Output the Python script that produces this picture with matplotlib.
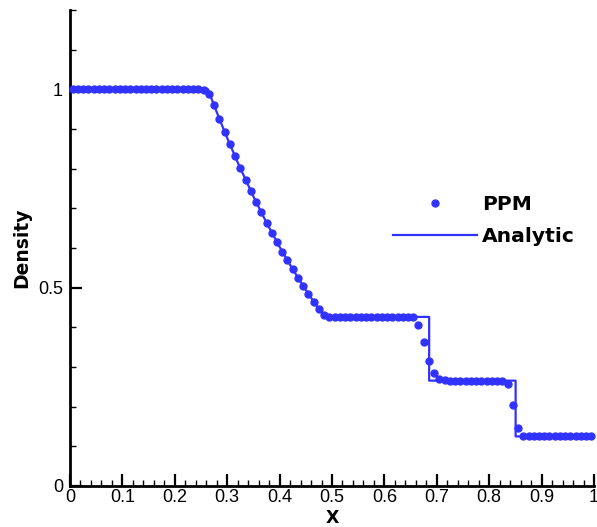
import matplotlib
matplotlib.use("Agg")
import matplotlib.pyplot as plt
import numpy as np

# PPM cell-centred values (100 cells)
ppm_x = [0.005 + 0.01 * i for i in range(100)]
ppm_rho = (
    [1.0] * 25 +
    [0.998, 0.988, 0.960, 0.926, 0.893, 0.862, 0.831, 0.801, 0.772, 0.744,
     0.716, 0.690, 0.664, 0.639, 0.615, 0.591, 0.569, 0.546, 0.525, 0.504,
     0.484, 0.465, 0.446, 0.432, 0.427] +
    [0.426] * 16 +
    [0.407, 0.363, 0.316, 0.286, 0.270, 0.266] +
    [0.265] * 11 +
    [0.258, 0.204, 0.145, 0.127] +
    [0.125] * 13
)

# Analytic solution
ana_x = [0.0, 0.2634, 0.27, 0.28, 0.29, 0.30, 0.32, 0.35, 0.375, 0.40,
         0.425, 0.45, 0.47, 0.4859, 0.6854, 0.6854, 0.8504, 0.8504, 1.0]
ana_rho = [1.0, 1.0, 0.9768, 0.9428, 0.9097, 0.8774, 0.8158, 0.7299, 0.6640, 0.6029,
           0.5464, 0.4943, 0.4555, 0.4263, 0.4263, 0.2656, 0.2656, 0.125, 0.125]

color = "#3232FF"

fig = plt.figure(figsize=(5.97, 5.27), dpi=100)
ax = fig.add_axes([70/597, 1 - 486/527, 524/597, 476/527])

ax.plot(ana_x, ana_rho, color=color, lw=1.6, label="Analytic", zorder=2)
ax.plot(ppm_x, ppm_rho, ls="none", marker="o", ms=5.0, color=color,
        mec=color, label="PPM", zorder=3, clip_on=False)

ax.set_xlim(0, 1)
ax.set_ylim(0, 1.2)
ax.spines["top"].set_visible(False)
ax.spines["right"].set_visible(False)
for s in ("left", "bottom"):
    ax.spines[s].set_linewidth(2.0)

ax.set_xticks(np.arange(0, 1.01, 0.1))
ax.set_xticklabels(["0", "0.1", "0.2", "0.3", "0.4", "0.5", "0.6", "0.7", "0.8", "0.9", "1"])
ax.set_xticks(np.arange(0, 1.001, 0.02), minor=True)
ax.set_yticks([0, 0.5, 1.0])
ax.set_yticklabels(["0", "0.5", "1"])
ax.set_yticks(np.arange(0, 1.201, 0.1), minor=True)

ax.tick_params(which="major", direction="in", length=8.5, width=1.6,
               labelsize=13, pad=2)
ax.tick_params(which="minor", direction="in", length=4.5, width=1.0)
ax.tick_params(axis="y", which="major", pad=5)
for lab in ax.get_xticklabels() + ax.get_yticklabels():
    lab.set_family("Liberation Sans")

ax.set_xlabel("X", fontsize=12.5, fontweight="bold", family="DejaVu Sans", labelpad=2)
ax.set_ylabel("Density", fontsize=13.5, fontweight="bold", family="DejaVu Sans", labelpad=5)

handles, labels = ax.get_legend_handles_labels()
order = [1, 0]
leg = ax.legend([handles[i] for i in order], [labels[i] for i in order],
                loc="upper left", bbox_to_anchor=((393-70)/524, (486-195)/476),
                frameon=False, borderpad=0, borderaxespad=0,
                handlelength=4.14, handletextpad=0.25, labelspacing=0.65,
                prop={"family": "DejaVu Sans", "weight": "bold", "size": 14.6})

fig.savefig("out.png", dpi=100)
